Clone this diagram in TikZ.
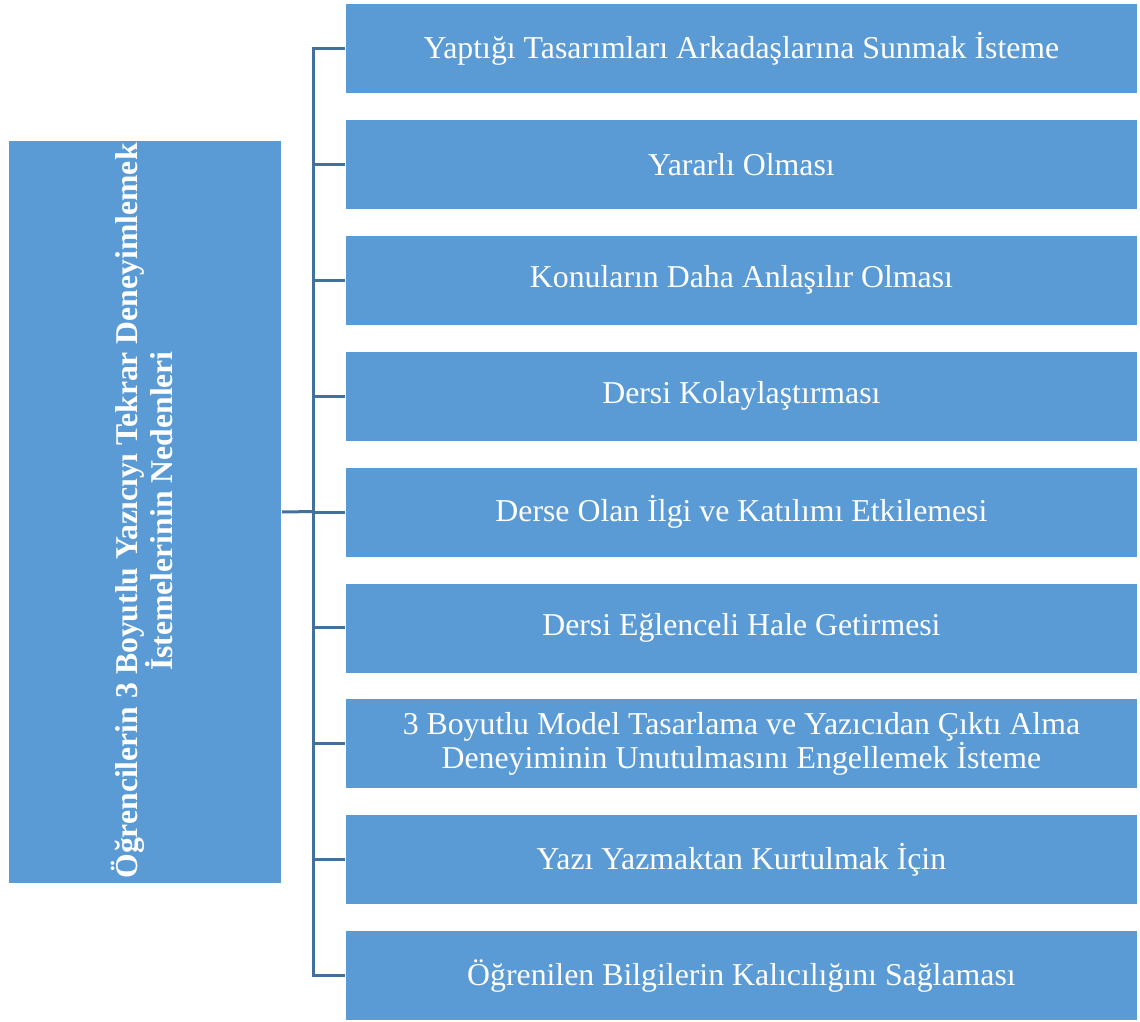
\documentclass[tikz,border=0pt]{standalone}
\usepackage{fontspec}
\setmainfont{Liberation Serif}
\definecolor{boxblue}{HTML}{5B9BD5}
\definecolor{linkblue}{HTML}{41719C}
\begin{document}
\begin{tikzpicture}[x=1pt,y=-1pt,
  reason/.style={fill=boxblue, draw=white, line width=0.8pt, minimum width=792pt, minimum height=90pt,
     text=white, font=\fontsize{31.8}{33}\selectfont, align=center, inner sep=0pt, anchor=north west},
  mainbox/.style={fill=boxblue, draw=white, line width=0.8pt, minimum width=273pt, minimum height=743pt,
     anchor=north west, inner sep=0pt},
  link/.style={draw=linkblue, line width=3pt}]
\useasboundingbox (0,0) rectangle (1140,1021);
\node[mainbox] (L) at (8,140) {};
\node[text=white, font=\bfseries\fontsize{31.7}{33}\selectfont, align=center, rotate=90, inner sep=0pt]
  (Lt) at (142,511) {Öğrencilerin 3 Boyutlu Yazıcıyı Tekrar Deneyimlemek\\İstemelerinin Nedenleri};
\node[reason] (b1) at (345,3)     {Yaptığı Tasarımları Arkadaşlarına Sunmak İsteme};
\node[reason] (b2) at (345,118.9) {Yararlı Olması};
\node[reason] (b3) at (345,234.8) {Konuların Daha Anlaşılır Olması};
\node[reason] (b4) at (345,350.7) {Dersi Kolaylaştırması};
\node[reason] (b5) at (345,466.6) {Derse Olan İlgi ve Katılımı Etkilemesi};
\node[reason] (b6) at (345,582.5) {Dersi Eğlenceli Hale Getirmesi};
\node[reason] (b7) at (345,698.4) {3 Boyutlu Model Tasarlama ve Yazıcıdan Çıktı Alma\\Deneyiminin Unutulmasını Engellemek İsteme};
\node[reason] (b8) at (345,814.3) {Yazı Yazmaktan Kurtulmak İçin};
\node[reason] (b9) at (345,930.2) {Öğrenilen Bilgilerin Kalıcılığını Sağlaması};
\coordinate (spine) at (313,511.6);
\draw[link] (L.east) -- (spine);
\foreach \i in {1,...,9}{
  \draw[link] (spine) |- (b\i.west);
}
\end{tikzpicture}
\end{document}
